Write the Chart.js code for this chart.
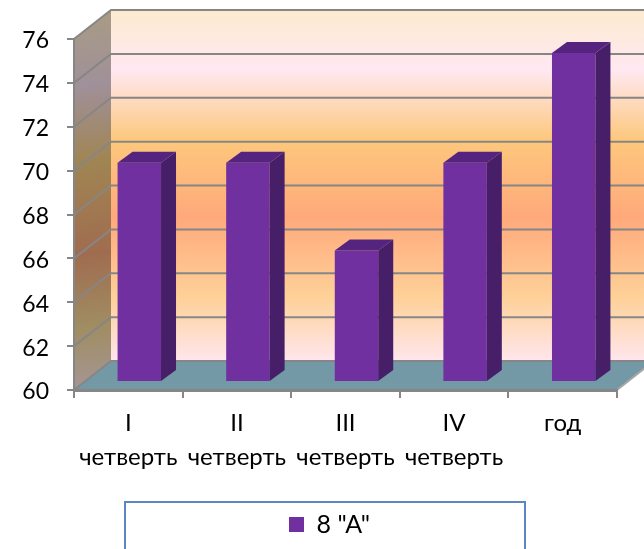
<!DOCTYPE html>
<html><head><meta charset="utf-8">
<style>html,body{margin:0;padding:0;background:#fff;overflow:hidden}canvas{display:block}</style>
<script src="https://cdn.jsdelivr.net/npm/chart.js@4"></script></head>
<body><canvas id="c" width="644" height="549"></canvas>
<script>
const categories = [["I","четверть"],["II","четверть"],["III","четверть"],["IV","четверть"],["год"]];
const seriesName = '8 "А"';
const values = [70,70,66,70,75];
const FONT = 'Lato, "Open Sans", sans-serif';
const GRID = '#868686';
const DEPTH = {dx:37, dy:-29};
const BAR = {shiftX:11, shiftY:-8, dx:15, dy:-11};

function stops(g, list){ list.forEach(s=>g.addColorStop(s[0],s[1])); return g; }
const wall3d = {
  id:'wall3d',
  afterLayout(chart){
    const lg=chart.legend;
    lg.left+=21;lg.right+=21;lg.top-=2;lg.bottom-=2;
  },
  beforeDraw(chart){
    const {ctx, chartArea:a, scales:{y}} = chart;
    const L=a.left,R=a.right,T=a.top,B=a.bottom,dx=DEPTH.dx,dy=DEPTH.dy;
    ctx.save();
    ctx.fillStyle='#fff';ctx.fillRect(0,0,chart.width,chart.height);
    // back wall
    ctx.fillStyle=stops(ctx.createLinearGradient(0,T+dy,0,B+dy),[[0,'#fdebcf'],[.17,'#ffe8f2'],[.37,'#fdc87c'],[.59,'#ffa97b'],[.82,'#fed199'],[1,'#ffe6ee']]);
    ctx.fillRect(L+dx,T+dy,R-L,B-T);
    // side wall
    ctx.fillStyle=stops(ctx.createLinearGradient(L,T+dy,L+dx,B),[[0,'#a99c82'],[.2,'#a0909a'],[.4,'#a08552'],[.64,'#a06c50'],[.83,'#a08d62'],[1,'#a59696']]);
    ctx.beginPath();ctx.moveTo(L,T);ctx.lineTo(L+dx,T+dy);ctx.lineTo(L+dx,B+dy);ctx.lineTo(L,B);ctx.closePath();ctx.fill();
    // floor
    ctx.fillStyle='#7299a5';
    ctx.beginPath();ctx.moveTo(L,B);ctx.lineTo(L+dx,B+dy);ctx.lineTo(R+dx,B+dy);ctx.lineTo(R,B);ctx.closePath();ctx.fill();
    // grid lines
    ctx.strokeStyle=GRID;ctx.lineWidth=2;
    y.ticks.forEach(t=>{
      const p=y.getPixelForValue(t.value);
      ctx.beginPath();ctx.moveTo(L,p);ctx.lineTo(L+dx,p+dy);ctx.lineTo(R+dx,p+dy);ctx.stroke();
    });
    ctx.strokeStyle='#a6a6a6';
    ctx.beginPath();ctx.moveTo(R,B);ctx.lineTo(R+dx,B+dy);ctx.stroke();
    // legend frame
    ctx.fillStyle='#fff';ctx.strokeStyle='#5b87c5';ctx.lineWidth=2;
    ctx.beginPath();ctx.rect(125,502,400,60);ctx.fill();ctx.stroke();
    ctx.restore();
  },
  beforeDatasetDraw(chart){
    chart.ctx.save();chart.ctx.translate(BAR.shiftX,BAR.shiftY);
  },
  afterDatasetDraw(chart,args){
    const ctx=chart.ctx;
    chart.getDatasetMeta(args.index).data.forEach(b=>{
      const p=b.getProps(['x','y','base','width'],true);
      const l=p.x-p.width/2,r=p.x+p.width/2;
      ctx.fillStyle='#471f68';
      ctx.beginPath();ctx.moveTo(r,p.y);ctx.lineTo(r+BAR.dx,p.y+BAR.dy);ctx.lineTo(r+BAR.dx,p.base+BAR.dy);ctx.lineTo(r,p.base);ctx.closePath();ctx.fill();
      ctx.fillStyle='#55247f';
      ctx.beginPath();ctx.moveTo(l,p.y);ctx.lineTo(l+BAR.dx,p.y+BAR.dy);ctx.lineTo(r+BAR.dx,p.y+BAR.dy);ctx.lineTo(r,p.y);ctx.closePath();ctx.fill();
    });
    ctx.restore();
  }
};

new Chart(document.getElementById('c'),{
  type:'bar',
  data:{labels:categories,datasets:[{label:seriesName,data:values,base:60,backgroundColor:'#7030a0',borderWidth:0,categoryPercentage:1,barPercentage:0.4}]},
  plugins:[wall3d],
  options:{
    responsive:false,animation:false,
    layout:{padding:{top:39,right:27,left:0,bottom:0}},
    plugins:{
      title:{display:false},tooltip:{enabled:false},
      legend:{position:'bottom',labels:{boxWidth:15,boxHeight:15,padding:12,color:'#000',font:{family:FONT,size:25}}}
    },
    scales:{
      x:{
        afterFit(s){s.height=112;},
        grid:{drawOnChartArea:false,color:GRID,lineWidth:2,tickLength:8},
        border:{color:GRID,width:3},
        ticks:{color:'#000',padding:8,maxRotation:0,autoSkip:false,font:{family:FONT,size:24,lineHeight:1.42}}
      },
      y:{
        min:60,max:76,
        afterFit(s){s.width=74;},
        grid:{drawOnChartArea:false,color:GRID,lineWidth:2,tickLength:7},
        border:{color:GRID,width:2},
        ticks:{stepSize:2,color:'#000',padding:18,labelOffset:2,font:{family:FONT,size:23}}
      }
    }
  }
});
</script></body></html>
